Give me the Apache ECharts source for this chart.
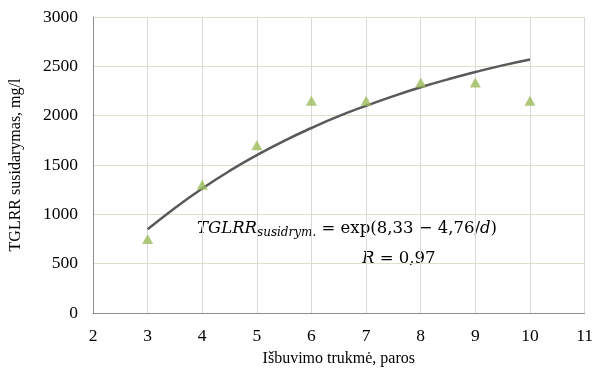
<!DOCTYPE html>
<html>
<head>
<meta charset="utf-8">
<script src="https://cdn.jsdelivr.net/npm/echarts@6/dist/echarts.min.js"></script>
<style>
  html, body { margin: 0; padding: 0; background: #fff; }
  #chart { width: 596px; height: 373px; }
</style>
</head>
<body>
<div id="chart"></div>
<script>
// measured points
const days = [3, 4, 5, 6, 7, 8, 9, 10];
const measured = [750, 1300, 1700, 2150, 2150, 2335, 2335, 2150];

// trend curve
const trendDays = [3, 3.5, 4, 4.5, 5, 5.5, 6, 6.5, 7, 7.5, 8, 8.5, 9, 9.5, 10];
const trendValues = [848, 1065, 1262, 1440, 1600, 1745, 1875, 1995, 2100, 2198, 2288, 2368, 2442, 2510, 2570];

const xTicks = [2, 3, 4, 5, 6, 7, 8, 9, 10, 11];
const yTicks = [0, 500, 1000, 1500, 2000, 2500, 3000];

const serif = '"Liberation Serif", "Times New Roman", serif';
const mathFont = '"DejaVu Serif", serif';

let chart = echarts.init(document.getElementById('chart'));

let option = {
    animation: false,
    backgroundColor: '#fff',
    grid: { left: 93, right: 8, top: 17, bottom: 60 },
    xAxis: {
        type: 'value',
        min: xTicks[0],
        max: xTicks[xTicks.length - 1],
        interval: 1,
        name: 'Išbuvimo trukmė, paros',
        nameLocation: 'middle',
        nameGap: 38,
        nameTextStyle: { fontFamily: serif, fontSize: 16, color: '#000' },
        axisLine: { lineStyle: { color: '#8c8c8c', width: 1 } },
        axisTick: { show: false },
        axisLabel: { fontFamily: serif, fontSize: 17.5, color: '#000', margin: 14 },
        splitLine: { show: true, lineStyle: { color: '#d9d9d9', width: 1 } }
    },
    yAxis: {
        type: 'value',
        min: yTicks[0],
        max: yTicks[yTicks.length - 1],
        interval: 500,
        name: 'TGLRR susidarymas, mg/l',
        nameLocation: 'middle',
        nameGap: 69,
        nameTextStyle: { fontFamily: serif, fontSize: 16, color: '#000' },
        axisLine: { show: true, lineStyle: { color: '#8c8c8c', width: 1 } },
        axisTick: { show: false },
        axisLabel: {
            fontFamily: serif, fontSize: 17.5, color: '#000', margin: 15,
            formatter: v => String(v)
        },
        splitLine: { show: true, lineStyle: { color: '#e3dfcc', width: 1 } }
    },
    series: [
        {
            name: 'Trend',
            type: 'line',
            data: trendDays.map((d, i) => [d, trendValues[i]]),
            smooth: true,
            showSymbol: false,
            lineStyle: { color: '#595959', width: 2.5 },
            z: 2
        },
        {
            name: 'TGLRR',
            type: 'scatter',
            data: days.map((d, i) => [d, measured[i]]),
            symbol: 'triangle',
            symbolSize: [11, 10],
            itemStyle: { color: '#9bbb59' },
            z: 3
        }
    ],
    graphic: [
        {
            type: 'text',
            left: 197,
            top: 220,
            style: {
                text: '{i|TGLRR}{s|susidrym.}{n| = exp(8,33 − 4,76/}{i|d}{n|)}',
                rich: {
                    i: { fontFamily: mathFont, fontStyle: 'italic', fontSize: 16.5, fill: '#000' },
                    s: { fontFamily: mathFont, fontStyle: 'italic', fontSize: 12, fill: '#000', padding: [9, 0, 0, 0] },
                    n: { fontFamily: mathFont, fontSize: 16.5, fill: '#000' }
                }
            }
        },
        {
            type: 'text',
            left: 362,
            top: 250,
            style: {
                text: '{i|R}{n| = 0,97}',
                rich: {
                    i: { fontFamily: mathFont, fontStyle: 'italic', fontSize: 16.5, fill: '#000' },
                    n: { fontFamily: mathFont, fontSize: 16.5, fill: '#000' }
                }
            }
        }
    ]
};

chart.setOption(option);
</script>
</body>
</html>
